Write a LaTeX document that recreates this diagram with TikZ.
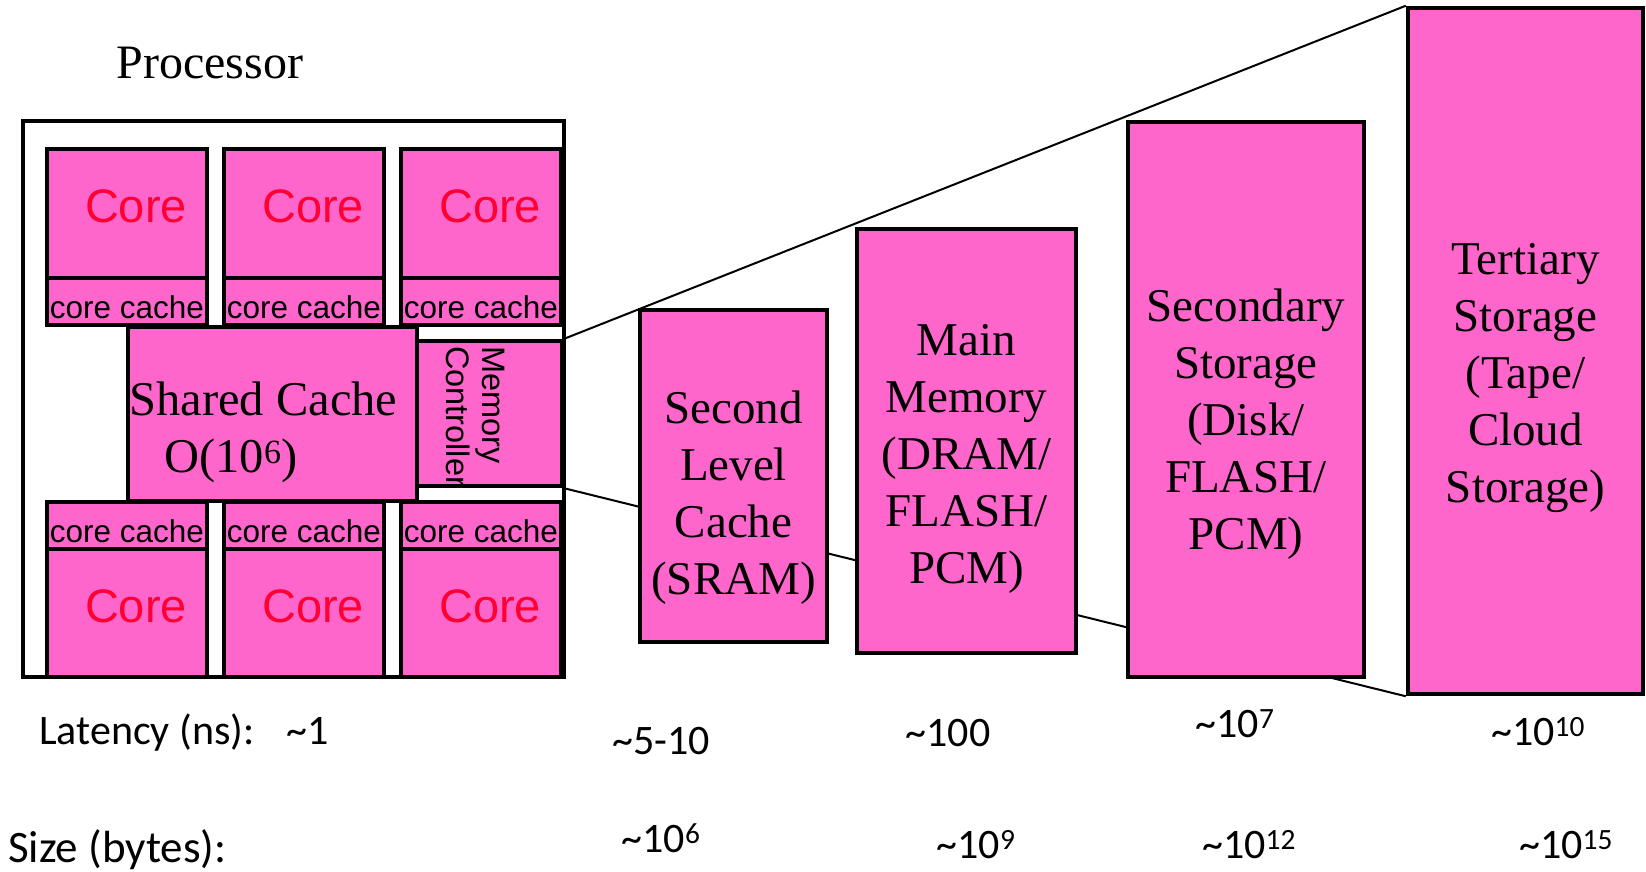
\documentclass[tikz,border=0pt]{standalone}
\usepackage{fontspec}
\usepackage{tikz}
\usetikzlibrary{backgrounds}
\newfontfamily\timesfont{Liberation Serif}
\newfontfamily\arialfont{Liberation Sans}
\newfontfamily\statfont{Carlito}
\definecolor{memPink}{HTML}{FF66CC}
\definecolor{coreRed}{HTML}{FF0033}
\newcommand{\tierstrut}[1]{\rule{0pt}{#1}}
\tikzstyle{unit} = [rectangle, draw, line width=4.5pt, fill=memPink, inner sep=0pt, align=center]
\tikzstyle{core} = [unit, minimum width=160pt, minimum height=129pt, text=coreRed, font=\arialfont\fontsize{47}{56}\selectfont,
  execute at begin node={\hspace*{18pt}}, execute at end node={\rule[-14pt]{0pt}{14pt}}]
\tikzstyle{ccache} = [unit, minimum width=160pt, minimum height=47pt, font=\arialfont\fontsize{31.5}{36}\selectfont,
  execute at begin node={\rule{0pt}{35pt}}]
\tikzstyle{tier} = [unit, font=\timesfont\fontsize{47}{57}\selectfont]
\tikzstyle{stat} = [font=\statfont\fontsize{42}{50}\selectfont, inner sep=0pt]
\tikzstyle{line} = [draw, line width=2pt]

\begin{document}
\begin{tikzpicture}[x=1pt, y=-1pt]
\useasboundingbox (0,0) rectangle (1646,871);

% processor
\node [font=\timesfont\fontsize{48}{57}\selectfont] at (210,63) (proclabel) {Processor};
\node [rectangle, draw, line width=4pt, fill=white, minimum width=541pt, minimum height=556pt] at (293.5,399) (proc) {};

\foreach \x [count=\i] in {127,304,481} {
  \node [core] at (\x,213.5) (topcore\i) {Core};
  \node [ccache] at (\x,301.5) (topcache\i) {core cache};
  \node [ccache] at (\x,525.5) (botcache\i) {core cache};
  \node [core, minimum height=128pt] at (\x,613) (botcore\i) {Core};
}

\node [tier, minimum width=289pt, minimum height=174pt, align=left, font=\timesfont\fontsize{48.5}{57}\selectfont] at (272.5,414) (shared)
  {\tierstrut{70pt}Shared Cache\hspace*{18pt}\\\hspace*{35pt}O(10\textsuperscript{6})};
\node [unit, minimum width=145pt, minimum height=145pt] at (489.5,413.5) (mc) {};
\node [rotate=-90, anchor=west, align=left, inner sep=0pt, font=\arialfont\fontsize{32.5}{36}\selectfont] at (476,346) (mclabel) {Memory\\Controller};

% hierarchy
\node [tier, minimum width=187pt, minimum height=332pt] at (733.5,476) (slc) {\tierstrut{76pt}Second\\Level\\Cache\\(SRAM)};
\node [tier, minimum width=219pt, minimum height=424pt] at (966.5,441) (mainmem) {\tierstrut{66pt}Main\\Memory\\(DRAM/\\FLASH/\\PCM)};
\node [tier, minimum width=236pt, minimum height=555pt] at (1246,399.5) (secstore) {\tierstrut{82pt}Secondary\\Storage\\(Disk/\\FLASH/\\PCM)};
\node [tier, minimum width=235pt, minimum height=686pt] at (1525.5,351) (tertstore) {\tierstrut{86pt}Tertiary\\Storage\\(Tape/\\Cloud\\Storage)};

\begin{scope}[on background layer]
\path [line] (mc.north east) -- (tertstore.north west);
\path [line] (mc.south east) -- (tertstore.south west);
\end{scope}

% latency, size
\node [stat, anchor=west] at (39,733) (latency) {Latency (ns):\hspace{32pt}\textasciitilde1};
\node [stat] at (661,741) (lat2) {\textasciitilde5-10};
\node [stat] at (948,733) (lat3) {\textasciitilde100};
\node [stat] at (1235,724) (lat4) {\textasciitilde10\textsuperscript{7}};
\node [stat] at (1538,732) (lat5) {\textasciitilde10\textsuperscript{10}};
\node [stat, anchor=west, font=\statfont\fontsize{45}{50}\selectfont] at (8,850) (size) {Size (bytes):};
\node [stat] at (661,838) (size2) {\textasciitilde10\textsuperscript{6}};
\node [stat] at (976,845) (size3) {\textasciitilde10\textsuperscript{9}};
\node [stat] at (1249,845) (size4) {\textasciitilde10\textsuperscript{12}};
\node [stat] at (1566,845) (size5) {\textasciitilde10\textsuperscript{15}};

\end{tikzpicture}
\end{document}
